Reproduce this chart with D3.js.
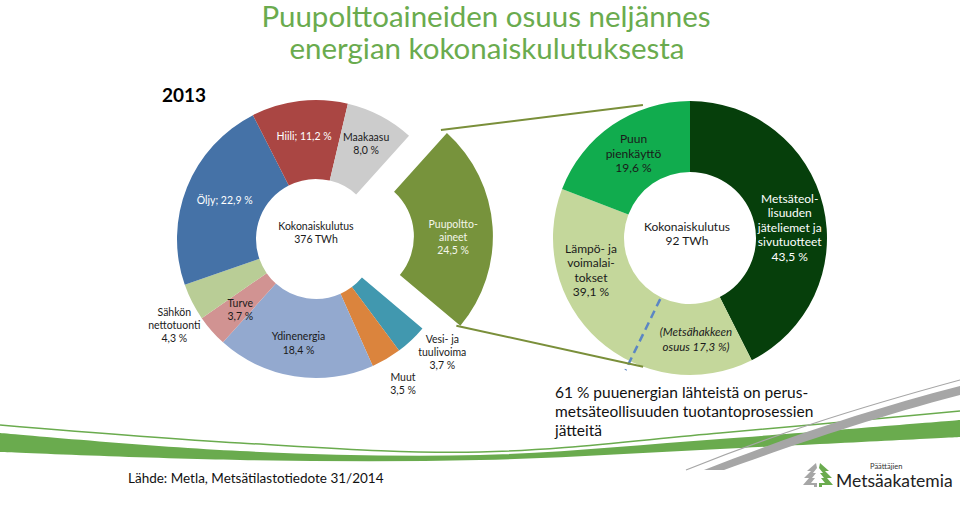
<!DOCTYPE html>
<html>
<head>
<meta charset="utf-8">
<script src="https://cdn.jsdelivr.net/npm/d3@7"></script>
<style>
  body { margin: 0; background: #fff; }
  svg { display: block; font-family: Lato, "Open Sans", sans-serif; }
</style>
</head>
<body>
<svg id="chart" width="960" height="506"></svg>
<script>
// energian kokonaiskulutus 2013, osuudet %
var energySources = ["Puupolttoaineet", "Vesi- ja tuulivoima", "Muut", "Ydinenergia", "Turve",
                     "Sähkön nettotuonti", "Öljy", "Hiili", "Maakaasu"];
var energyShares = [24.5, 3.7, 3.5, 18.4, 3.7, 4.3, 22.9, 11.2, 8.0];
var energyLabels = [["Puupoltto-", "aineet"], ["Vesi- ja", "tuulivoima"], ["Muut"], ["Ydinenergia"], ["Turve"],
                    ["Sähkön", "nettotuonti"], ["Öljy;"], ["Hiili;"], ["Maakaasu"]];
var energyColors = ["#77933c", "#4198af", "#db843d", "#93a9cf", "#d19392", "#b9cd96", "#4572a7", "#aa4643", "#cccccc"];
var energyTotal = "376 TWh";

// puupolttoaineiden käyttö, osuudet %
var woodSources = ["Metsäteollisuuden jäteliemet ja sivutuotteet", "Lämpö- ja voimalaitokset", "Puun pienkäyttö"];
var woodShares = [43.5, 39.1, 19.6];
var woodLabels = [["Metsäteol-", "lisuuden", "jäteliemet ja", "sivutuotteet"], ["Lämpö- ja", "voimalai-", "tokset"], ["Puun", "pienkäyttö"]];
var woodColors = ["#063f0b", "#c4d79b", "#11ac4e"];
var woodTotal = "92 TWh";
var hakeShare = 17.3;

var svg = d3.select("#chart");
var fmt = function(v) { return d3.format(".1f")(v).replace(".", ",") + " %"; };
var rad = function(deg) { return deg * Math.PI / 180; };
var polar = function(c, r, a) { return [c[0] + r * Math.sin(a), c[1] - r * Math.cos(a)]; };

// --- bottom swooshes
var swoosh = d3.line().curve(d3.curveCatmullRom);
svg.append("path")
  .attr("d", swoosh([[0,433],[240,451],[480,455],[720,439],[960,420]]) + "L" +
             swoosh([[960,437],[720,449],[480,460],[240,460],[0,452]]).slice(1) + "Z")
  .attr("fill", "#6aab4e");
svg.append("path")
  .attr("d", swoosh([[0,425],[240,443],[480,452],[720,433],[960,411]]))
  .attr("fill", "none").attr("stroke", "#6aab4e").attr("stroke-width", 1.5);
svg.append("path")
  .attr("d", "M704,470 C780,440 860,412 960,386 L960,395 C865,420 785,448 724,470 Z")
  .attr("fill", "#a6a6a6");
svg.append("path")
  .attr("d", "M686,470 C770,436 850,410 960,380")
  .attr("fill", "none").attr("stroke", "#a6a6a6").attr("stroke-width", 1.2);

// --- title
svg.append("text").attr("x", 486).attr("y", 27).attr("text-anchor", "middle")
  .attr("font-size", 29.5).attr("fill", "#6aab4e").text("Puupolttoaineiden osuus neljännes");
svg.append("text").attr("x", 487).attr("y", 59).attr("text-anchor", "middle")
  .attr("font-size", 29.5).attr("fill", "#6aab4e").text("energian kokonaiskulutuksesta");
svg.append("text").attr("x", 162).attr("y", 102)
  .attr("font-size", 19).attr("font-weight", "bold").attr("fill", "#000").text("2013");

// --- left donut
var cL = [316, 239], RL = 139, rL = 60, explode = 38;
var pieL = d3.pie().sort(null).value(function(d) { return d; }).startAngle(rad(42)).endAngle(rad(42) + 2 * Math.PI);
var arcsL = pieL(energyShares);
var arcL = d3.arc().innerRadius(rL).outerRadius(RL);
var gL = svg.append("g").attr("transform", "translate(" + cL + ")");

gL.selectAll("path").data(arcsL).enter().append("path")
  .attr("d", arcL)
  .attr("fill", function(d, i) { return energyColors[i]; })
  .attr("transform", function(d, i) {
    if (i !== 0) return null;
    var m = (d.startAngle + d.endAngle) / 2;
    return "translate(" + (explode * Math.sin(m)) + "," + (-explode * Math.cos(m)) + ")";
  });

// label layout: inside at mid radius, small ones outside
var outsideL = { 2: true, 1: true, 5: true };
var nudgeL = [[0,8],[11,-9],[2,0],[-2,6],[-1,5],[8,10],[1,-2],[0,-4],[4,-7]];
var lightTextL = { 0: "#f4f6ea", 6: "#ffffff", 7: "#ffffff" };

arcsL.forEach(function(d, i) {
  var m = (d.startAngle + d.endAngle) / 2;
  var r = outsideL[i] ? 168 : (RL + rL) / 2;
  var p = polar([0, 0], r, m);
  if (i === 0) { p[0] += explode * Math.sin(m); p[1] -= explode * Math.cos(m); }
  p[0] += nudgeL[i][0]; p[1] += nudgeL[i][1];
  var lines = energyLabels[i].slice();
  var last = lines[lines.length - 1];
  if (last.slice(-1) === ";") lines[lines.length - 1] = last + " " + fmt(d.data);
  else lines.push(fmt(d.data));
  var lh = 13.3;
  var t = gL.append("text").attr("text-anchor", "middle").attr("font-size", 10.5)
    .attr("fill", lightTextL[i] || "#1a1a1a");
  lines.forEach(function(s, k) {
    t.append("tspan").attr("x", p[0])
      .attr("y", p[1] + (k - (lines.length - 1) / 2) * lh)
      .attr("dy", "0.35em").text(s);
  });
});

gL.append("text").attr("text-anchor", "middle").attr("font-size", 10.5).attr("fill", "#1a1a1a")
  .selectAll("tspan").data(["Kokonaiskulutus", energyTotal]).enter().append("tspan")
  .attr("x", 0).attr("y", function(d, k) { return -13 + k * 13; }).attr("dy", "0.35em").text(function(d) { return d; });

// --- right donut
var cR = [690, 238], RR = 137, rR = 66;
var pieR = d3.pie().sort(null).value(function(d) { return d; });
var arcsR = pieR(woodShares);
var arcR = d3.arc().innerRadius(rR).outerRadius(RR);
var gR = svg.append("g").attr("transform", "translate(" + cR + ")");

gR.selectAll("path").data(arcsR).enter().append("path")
  .attr("d", arcR)
  .attr("fill", function(d, i) { return woodColors[i]; });

var nudgeR = [[1,13],[-31,-43],[1,-1]];
var lightTextR = { 0: "#ffffff" };
arcsR.forEach(function(d, i) {
  var m = (d.startAngle + d.endAngle) / 2;
  var p = polar([0, 0], (RR + rR) / 2, m);
  p[0] += nudgeR[i][0]; p[1] += nudgeR[i][1];
  var lines = woodLabels[i].concat([fmt(d.data)]);
  var lh = 14.5;
  var t = gR.append("text").attr("text-anchor", "middle").attr("font-size", 12)
    .attr("fill", lightTextR[i] || "#1a1a1a");
  lines.forEach(function(s, k) {
    t.append("tspan").attr("x", p[0])
      .attr("y", p[1] + (k - (lines.length - 1) / 2) * lh)
      .attr("dy", "0.35em").text(s);
  });
});

gR.append("text").attr("text-anchor", "middle").attr("font-size", 12).attr("fill", "#1a1a1a")
  .selectAll("tspan").data(["Kokonaiskulutus", woodTotal]).enter().append("tspan")
  .attr("x", -3).attr("y", function(d, k) { return -11 + k * 13.5; }).attr("dy", "0.35em").text(function(d) { return d; });

// metsähake annotation
var hakeAngle = rad(206);
var h0 = polar([0, 0], rR + 2, hakeAngle), h1 = polar([0, 0], RR + 10, hakeAngle);
gR.append("line").attr("x1", h0[0]).attr("y1", h0[1]).attr("x2", h1[0]).attr("y2", h1[1])
  .attr("stroke", "#5b86c4").attr("stroke-width", 2.5).attr("stroke-dasharray", "8,5");
gR.append("text").attr("text-anchor", "middle").attr("font-size", 11.5).attr("font-style", "italic")
  .attr("fill", "#1a1a1a")
  .selectAll("tspan").data(["(Metsähakkeen", "osuus " + fmt(hakeShare) + ")"]).enter().append("tspan")
  .attr("x", 6).attr("y", function(d, k) { return 94 + k * 15; }).attr("dy", "0.35em").text(function(d) { return d; });

// --- zoom lines from exploded slice to right donut
var puu = arcsL[0];
var pm = (puu.startAngle + puu.endAngle) / 2;
var off = [explode * Math.sin(pm), -explode * Math.cos(pm)];
var a0 = polar(cL, RL, puu.startAngle), a1 = polar(cL, RL, puu.endAngle);
var b0 = polar(cR, RR + 4, rad(-19.5)), b1 = polar(cR, RR, rad(200));
svg.append("line").attr("x1", a0[0] + off[0] - 6).attr("y1", a0[1] + off[1] - 3).attr("x2", b0[0]).attr("y2", b0[1])
  .attr("stroke", "#7a8f3a").attr("stroke-width", 2);
svg.append("line").attr("x1", a1[0] + off[0] - 4).attr("y1", a1[1] + off[1]).attr("x2", b1[0]).attr("y2", b1[1])
  .attr("stroke", "#7a8f3a").attr("stroke-width", 2);

// --- text bottom right
svg.append("text").attr("font-size", 15.5).attr("fill", "#111")
  .selectAll("tspan").data(["61 % puuenergian lähteistä on perus-", "metsäteollisuuden tuotantoprosessien", "jätteitä"])
  .enter().append("tspan").attr("x", 555).attr("y", function(d, k) { return 398 + k * 19; }).text(function(d) { return d; });

// source
svg.append("text").attr("x", 128).attr("y", 483).attr("font-size", 13.5).attr("fill", "#111")
  .text("Lähde: Metla, Metsätilastotiedote 31/2014");

// logo
var logo = svg.append("g").attr("transform", "translate(803,463)");
logo.append("path").attr("fill", "#a6a6a6")
  .attr("d", "M13,0 L4,8 L8,8 L1,15 L6,15 L0,22 L11,22 L11,24 L14,24 L14,20 L8,20 L12,15 L9,15 L13,10 L10,10 L14,5 Z");
logo.append("path").attr("fill", "#6aab4e")
  .attr("d", "M17,0 L26,8 L22,8 L29,15 L24,15 L30,22 L19,22 L19,24 L16,24 L16,20 L22,20 L18,15 L21,15 L17,10 L20,10 L16,5 Z");
svg.append("text").attr("x", 870).attr("y", 469).attr("font-size", 7.5).attr("fill", "#333").text("Päättäjien");
svg.append("text").attr("x", 836).attr("y", 487).attr("font-size", 17.5).attr("fill", "#222").text("Metsäakatemia");
</script>
</body>
</html>
